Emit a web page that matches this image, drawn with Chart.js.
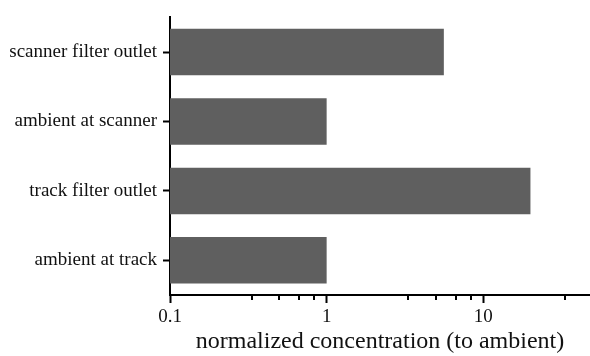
<!DOCTYPE html>
<html>
<head>
<meta charset="utf-8">
<script src="https://cdn.jsdelivr.net/npm/chart.js@4"></script>
<style>
  html, body { margin: 0; padding: 0; background: #fff; }
  #wrap { width: 590px; height: 356px; }
</style>
</head>
<body>
<div id="wrap"><canvas id="chart"></canvas></div>
<script>
// Categories from top to bottom
const categories = ['scanner filter outlet', 'ambient at scanner', 'track filter outlet', 'ambient at track'];
// normalized concentration (to ambient)
const values = [5.6, 1, 20, 1];
// x axis ticks (log scale); only majors get a label
const tickValues = [0.1, 0.333, 0.5, 0.667, 0.833, 1, 3.33, 5, 6.67, 8.33, 10, 33.3];
const majorTicks = [0.1, 1, 10];
const tickLabels = ['0.1', '1', '10'];

const serif = '"Liberation Serif", "Times New Roman", serif';

// short minor ticks below the x axis
const minorTicks = {
    id: 'minorTicks',
    afterDraw(chart) {
        const x = chart.scales.x;
        const ctx = chart.ctx;
        ctx.save();
        ctx.strokeStyle = '#000';
        ctx.lineWidth = 2;
        x.ticks.forEach(t => {
            if (majorTicks.includes(t.value)) return;
            const px = Math.round(x.getPixelForValue(t.value));
            ctx.beginPath();
            ctx.moveTo(px, x.top);
            ctx.lineTo(px, x.top + 5);
            ctx.stroke();
        });
        ctx.restore();
    }
};

new Chart(document.getElementById('chart'), {
    type: 'bar',
    data: {
        labels: categories,
        datasets: [{
            data: values,
            backgroundColor: '#5f5f5f',
            borderWidth: 0,
            barPercentage: 0.67,
            categoryPercentage: 1
        }]
    },
    options: {
        indexAxis: 'y',
        responsive: true,
        maintainAspectRatio: false,
        animation: false,
        layout: { padding: { top: 13, right: 0, left: 0, bottom: 0 } },
        plugins: {
            legend: { display: false },
            tooltip: { enabled: false }
        },
        scales: {
            x: {
                type: 'logarithmic',
                min: 0.1,
                max: 48,
                afterBuildTicks(scale) {
                    scale.ticks = tickValues.map(v => ({ value: v, major: majorTicks.includes(v) }));
                },
                afterFit(scale) { scale.height = 61; },
                border: { display: true, color: '#000', width: 2 },
                grid: {
                    drawOnChartArea: false,
                    drawTicks: true,
                    tickLength: 8,
                    tickWidth: 2,
                    tickColor: ctx => (ctx.tick && majorTicks.includes(ctx.tick.value)) ? '#000' : 'rgba(0,0,0,0)'
                },
                ticks: {
                    autoSkip: false,
                    maxRotation: 0,
                    padding: 3,
                    color: '#111',
                    font: { family: serif, size: 19 },
                    callback: v => {
                        const i = majorTicks.indexOf(v);
                        return i >= 0 ? tickLabels[i] : '';
                    }
                },
                title: {
                    display: true,
                    text: 'normalized concentration (to ambient)',
                    color: '#111',
                    font: { family: serif, size: 24 },
                    padding: { top: 0, bottom: 0 }
                }
            },
            y: {
                afterFit(scale) { scale.width = 170; },
                border: { display: true, color: '#000', width: 2 },
                grid: {
                    offset: false,
                    drawOnChartArea: false,
                    drawTicks: true,
                    tickLength: 7,
                    tickWidth: 2,
                    tickColor: '#000'
                },
                ticks: {
                    padding: 6,
                    color: '#111',
                    font: { family: serif, size: 19 }
                }
            }
        }
    },
    plugins: [minorTicks]
});
</script>
</body>
</html>
